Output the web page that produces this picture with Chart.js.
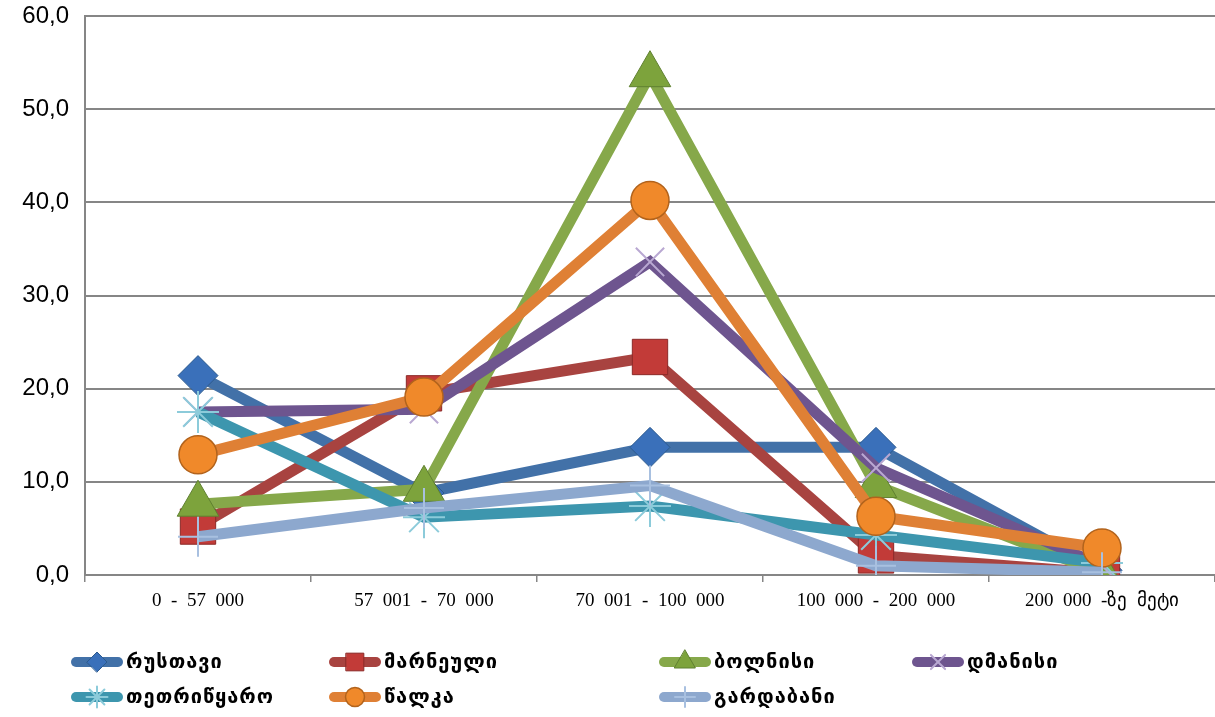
<!DOCTYPE html>
<html>
<head>
<meta charset="utf-8">
<script src="https://cdn.jsdelivr.net/npm/chart.js@4"></script>
<style>
  html, body { margin: 0; padding: 0; background: #fff; }
  #wrap { width: 1215px; height: 717px; }
</style>
</head>
<body>
<div id="wrap"><canvas id="incomeChart" width="1215" height="717"></canvas></div>
<script>
const categories = ["0  -  57  000", "57  001  -  70  000", "70  001  -  100  000", "100  000  -  200  000", "200  000  -ზე  მეტი"];
const seriesNames = ["რუსთავი", "მარნეული", "ბოლნისი", "დმანისი", "თეთრიწყარო", "წალკა", "გარდაბანი"];

const rustavi     = [21.4, 8.8, 13.7, 13.7, 0.5];
const marneuli    = [5.2, 19.5, 23.4, 2.1, 0.2];
const bolnisi     = [7.6, 9.2, 53.7, 9.6, 0.2];
const dmanisi     = [17.5, 17.8, 33.6, 11.5, 1.0];
const tetritskaro = [17.5, 6.2, 7.4, 4.3, 1.3];
const tsalka      = [12.9, 19.1, 40.2, 6.3, 2.9];
const gardabani   = [4.1, 7.2, 9.6, 1.0, 0.3];

const yTicks = [0, 10, 20, 30, 40, 50, 60];

const seriesValues = [rustavi, marneuli, bolnisi, dmanisi, tetritskaro, tsalka, gardabani];

// line colour, marker fill, marker border, point style, radius, marker border width
const looks = [
  ["#4271A8", "#3A70BA", "#2C5A8E", "rectRot", 20, 1],
  ["#A84340", "#C23B38", "#8B2A28", "rect", 25, 1],
  ["#86A84A", "#7DA33C", "#5F8030", "triangle", 24, 1],
  ["#6E558F", "rgba(0,0,0,0)", "#B9A8D2", "crossRot", 20, 2],
  ["#3D96AE", "rgba(0,0,0,0)", "#8CCBDA", "star", 21, 2],
  ["#DF8035", "#F0892A", "#B2631C", "circle", 19, 1.5],
  ["#8DA8CE", "rgba(0,0,0,0)", "#A8C0E0", "cross", 20, 2]
];

const datasets = seriesNames.map((name, i) => ({
  label: name,
  data: seriesValues[i],
  borderColor: looks[i][0],
  backgroundColor: looks[i][1],
  pointBackgroundColor: looks[i][1],
  pointBorderColor: looks[i][2],
  pointStyle: looks[i][3],
  pointRadius: looks[i][4],
  pointHoverRadius: looks[i][4],
  pointBorderWidth: looks[i][5],
  borderWidth: 11,
  tension: 0,
  order: seriesNames.length - i
}));

const legendCols = [72, 330, 660, 913];
const legendRows = [662, 697];

const lineLegend = {
  id: "lineLegend",
  afterDraw(chart) {
    const ctx = chart.ctx;
    ctx.save();
    chart.data.datasets.forEach((ds, i) => {
      const x = legendCols[i % 4];
      const y = legendRows[Math.floor(i / 4)];
      ctx.lineCap = "round";
      ctx.strokeStyle = ds.borderColor;
      ctx.lineWidth = 10;
      ctx.beginPath();
      ctx.moveTo(x + 4, y);
      ctx.lineTo(x + 46, y);
      ctx.stroke();
      ctx.fillStyle = ds.pointBackgroundColor;
      ctx.strokeStyle = ds.pointBorderColor;
      ctx.lineWidth = ds.pointBorderWidth;
      Chart.helpers.drawPoint(ctx, {
        pointStyle: ds.pointStyle,
        radius: ds.pointRadius * 0.5,
        borderWidth: ds.pointBorderWidth
      }, x + 25, y);
      ctx.fillStyle = "#000";
      ctx.font = "bold 20px 'DejaVu Sans'";
      ctx.textBaseline = "middle";
      ctx.letterSpacing = "1px";
      ctx.fillText(ds.label, x + 54, y + 1);
    });
    ctx.restore();
  }
};

new Chart(document.getElementById("incomeChart"), {
  type: "line",
  data: { labels: categories, datasets: datasets },
  options: {
    responsive: false,
    animation: false,
    layout: { autoPadding: false, padding: { top: 16, right: 0, left: 0, bottom: 0 } },
    plugins: {
      legend: { display: false },
      tooltip: { enabled: false }
    },
    scales: {
      x: {
        offset: true,
        afterFit: s => { s.height = 142; },
        grid: {
          offset: true,
          drawOnChartArea: false,
          drawTicks: true,
          tickLength: 7,
          color: "#868686",
          lineWidth: 1.5
        },
        border: { color: "#868686", width: 2 },
        ticks: {
          color: "#000",
          padding: 8,
          maxRotation: 0,
          font: { family: "'Liberation Serif'", size: 19 }
        }
      },
      y: {
        min: 0,
        max: 60,
        afterFit: s => { s.width = 85; s.paddingTop = 0; s.paddingBottom = 0; },
        afterBuildTicks: s => { s.ticks = yTicks.map(v => ({ value: v })); },
        grid: {
          color: "#868686",
          lineWidth: 2,
          drawTicks: false
        },
        border: { color: "#868686", width: 2 },
        ticks: {
          color: "#000",
          padding: 16,
          font: { family: "'Liberation Sans'", size: 24 },
          callback: v => v.toFixed(1).replace(".", ",")
        }
      }
    }
  },
  plugins: [lineLegend]
});
</script>
</body>
</html>
